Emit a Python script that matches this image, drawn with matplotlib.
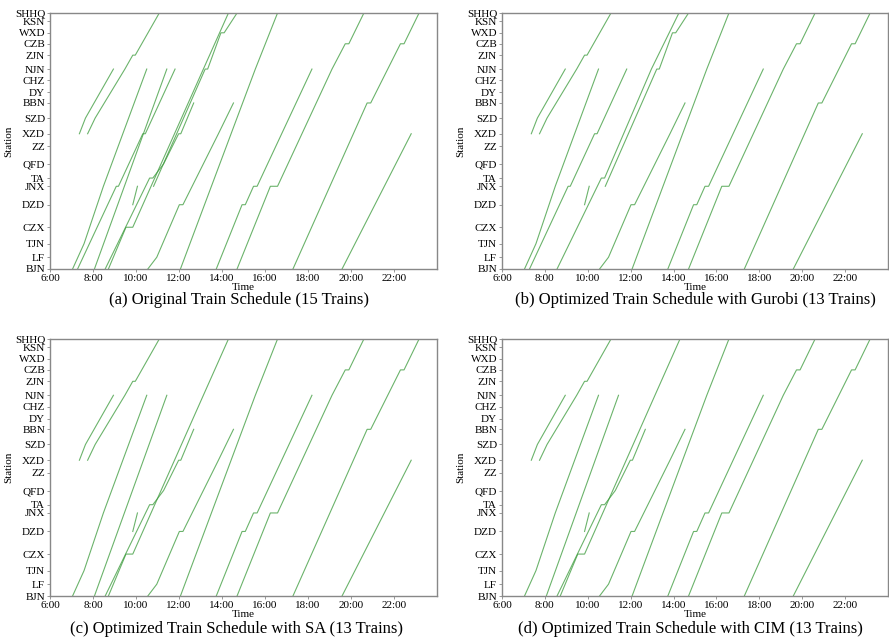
import matplotlib
matplotlib.use("Agg")
import matplotlib.pyplot as plt

plt.rcParams["font.family"] = "serif"
plt.rcParams["font.serif"] = ["Liberation Serif", "DejaVu Serif"]

# stations along the line, with approximate distance from BJN (km)
STATIONS = ["BJN", "LF", "TJN", "CZX", "DZD", "JNX", "TA", "QFD", "ZZ", "XZD",
            "SZD", "BBN", "DY", "CHZ", "NJN", "ZJN", "CZB", "WXD", "KSN", "SHHQ"]
STATION_KM = [0, 60, 129, 213, 328, 422, 464, 536, 626, 690,
              770, 847, 901, 962, 1020, 1091, 1149, 1205, 1263, 1306]

# train paths: (station, time) vertices
T01 = [("BJN", "7:03"), ("TJN", "7:35"), ("JNX", "8:29"), ("NJN", "10:30")]
T02 = [("BJN", "7:17"), ("TJN", "7:50"), ("JNX", "9:05"), ("JNX", "9:11"),
       ("XZD", "10:19"), ("XZD", "10:26"), ("NJN", "11:49")]
T03 = [("BJN", "8:04"), ("NJN", "11:26")]
T04 = [("BJN", "8:34"), ("TA", "10:38"), ("TA", "10:47"), ("QFD", "11:17"),
       ("XZD", "11:59"), ("XZD", "12:05"), ("BBN", "12:41")]
T04B = [("BJN", "8:34"), ("TA", "10:38"), ("TA", "10:47"), ("NJN", "12:58"),
        ("SHHQ", "14:15")]
T05 = [("BJN", "8:43"), ("CZX", "9:32"), ("CZX", "9:51"), ("NJN", "13:08"),
       ("SHHQ", "14:18")]
T06 = [("XZD", "7:22"), ("SZD", "7:39"), ("NJN", "8:57")]
T07 = [("XZD", "7:45"), ("SZD", "8:06"), ("NJN", "9:29"), ("ZJN", "9:51"),
       ("ZJN", "9:58"), ("SHHQ", "11:05")]
T08 = [("DZD", "9:51"), ("JNX", "10:04")]
T09 = [("JNX", "10:49"), ("NJN", "13:13"), ("NJN", "13:20"), ("WXD", "13:57"),
       ("WXD", "14:06"), ("SHHQ", "14:42")]
T10 = [("BJN", "10:33"), ("LF", "10:58"), ("DZD", "12:01"), ("DZD", "12:11"),
       ("XZD", "13:50"), ("BBN", "14:32")]
T11 = [("BJN", "12:04"), ("NJN", "15:33"), ("SHHQ", "16:35")]
T12 = [("BJN", "13:44"), ("DZD", "14:56"), ("DZD", "15:05"), ("JNX", "15:28"),
       ("JNX", "15:38"), ("NJN", "18:11")]
T13 = [("BJN", "14:42"), ("JNX", "16:15"), ("JNX", "16:35"), ("NJN", "19:07"),
       ("CZB", "19:44"), ("CZB", "19:54"), ("SHHQ", "20:36")]
T14 = [("BJN", "17:18"), ("BBN", "20:45"), ("BBN", "20:55"), ("CZB", "22:18"),
       ("CZB", "22:28"), ("SHHQ", "23:10")]
T15 = [("BJN", "19:35"), ("XZD", "22:48")]

SCHEDULE_A = [T01, T02, T03, T04, T05, T06, T07, T08, T09, T10, T11, T12, T13, T14, T15]
SCHEDULE_B = [T01, T02, T04B, T06, T07, T08, T09, T10, T11, T12, T13, T14, T15]
SCHEDULE_C = [T01, T03, T04, T05, T06, T07, T08, T10, T11, T12, T13, T14, T15]
SCHEDULE_D = [T01, T03, T04, T05, T06, T07, T08, T10, T11, T12, T13, T14, T15]

CAPTIONS = [
    "(a) Original Train Schedule (15 Trains)",
    "(b) Optimized Train Schedule with Gurobi (13 Trains)",
    "(c) Optimized Train Schedule with SA (13 Trains)",
    "(d) Optimized Train Schedule with CIM (13 Trains)",
]
HOUR_TICKS = [6, 8, 10, 12, 14, 16, 18, 20, 22]

km = dict(zip(STATIONS, STATION_KM))


def to_hours(s):
    h, m = s.split(":")
    return int(h) + int(m) / 60


fig = plt.figure(figsize=(8.89, 6.42), dpi=100)
W, H = 889, 642
# axes boxes in pixels: left, top, right, bottom
boxes = [(50, 13, 437, 269), (502, 13, 888, 269),
         (50, 339, 437, 596), (502, 339, 888, 596)]
caption_xy = [(239, 300), (695, 300), (237, 629), (690, 629)]
schedules = [SCHEDULE_A, SCHEDULE_B, SCHEDULE_C, SCHEDULE_D]

for box, sched, cap, cxy in zip(boxes, schedules, CAPTIONS, caption_xy):
    l, t, r, b = box
    ax = fig.add_axes([l / W, 1 - b / H, (r - l) / W, (b - t) / H])
    for train in sched:
        xs = [to_hours(tm) for _, tm in train]
        ys = [km[st] for st, _ in train]
        ax.plot(xs, ys, color="#3a9a3a", alpha=0.75, lw=0.8)
    ax.set_xlim(6, 24)
    ax.set_ylim(0, 1306)
    ax.set_xticks(HOUR_TICKS)
    ax.set_xticklabels([f"{h}:00" for h in HOUR_TICKS])
    ax.set_yticks(STATION_KM)
    ax.set_yticklabels(STATIONS)
    ax.tick_params(labelsize=8, length=2.5, width=0.6, color="#888888", pad=1)
    for sp in ax.spines.values():
        sp.set_color("#888888")
        sp.set_linewidth(1.0)
    ax.set_xlabel("Time", fontsize=8, labelpad=0)
    ax.set_ylabel("Station", fontsize=8, labelpad=1)
    fig.text(cxy[0] / W, 1 - cxy[1] / H, cap, ha="center", va="center", fontsize=12)

fig.savefig("out.png", dpi=100)
